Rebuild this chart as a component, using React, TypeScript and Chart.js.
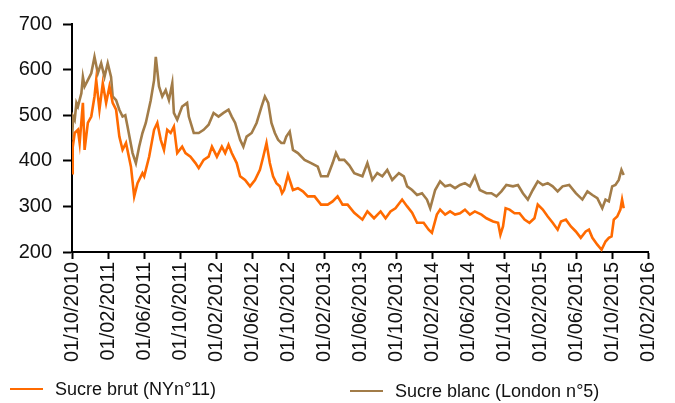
import React, { useEffect, useRef } from "react";
import { Chart, registerables } from "chart.js";

Chart.register(...registerables);

// x positions are months elapsed since 01/10/2010
const tickMonths = [0, 4, 8, 12, 16, 20, 24, 28, 32, 36, 40, 44, 48, 52, 56, 60, 64];
const tickLabels = [
  "01/10/2010", "01/02/2011", "01/06/2011", "01/10/2011", "01/02/2012", "01/06/2012",
  "01/10/2012", "01/02/2013", "01/06/2013", "01/10/2013", "01/02/2014", "01/06/2014",
  "01/10/2014", "01/02/2015", "01/06/2015", "01/10/2015", "01/02/2016",
];
const yTicks = [200, 300, 400, 500, 600, 700];

const brutLabel = "Sucre brut (NYn°11)";
const blancLabel = "Sucre blanc (London n°5)";

const brutMonths = [
  0.0, 0.08, 0.3, 0.66, 0.85, 1.21, 1.4, 1.76, 2.14, 2.5, 2.69, 3.05, 3.42, 3.79, 4.16, 4.52, 4.9,
  5.26, 5.62, 6.0, 6.55, 6.91, 7.28, 7.83, 8.02, 8.57, 9.12, 9.48, 9.86, 10.22, 10.58, 10.96,
  11.32, 11.69, 12.24, 12.61, 13.16, 13.72, 14.08, 14.63, 15.18, 15.55, 16.1, 16.65, 17.02,
  17.39, 17.75, 18.3, 18.68, 19.23, 19.78, 20.33, 20.88, 21.25, 21.61, 21.98, 22.34, 22.71,
  23.09, 23.34, 23.56, 24.0, 24.55, 25.1, 25.65, 26.2, 26.95, 27.67, 28.41, 28.96, 29.51,
  30.06, 30.62, 31.36, 32.27, 32.82, 33.56, 34.29, 34.84, 35.39, 35.94, 36.68, 37.24, 37.79,
  38.34, 39.07, 39.63, 39.99, 40.54, 40.9, 41.46, 42.01, 42.56, 43.11, 43.66, 44.21, 44.76,
  45.5, 46.05, 46.79, 47.34, 47.6, 47.89, 48.18, 48.62, 49.17, 49.72, 50.28, 50.83, 51.38,
  51.75, 52.31, 52.86, 53.41, 53.96, 54.33, 54.88, 55.43, 55.98, 56.53, 57.08, 57.44, 57.82,
  58.37, 58.84, 59.28, 59.65, 59.95, 60.2, 60.58, 60.93, 61.12, 61.3,
];
const brutValues = [
  373, 430, 461, 468, 439, 527, 424, 483, 497, 541, 577, 512, 570, 527, 563, 527, 512,
  453, 424, 439, 387, 322, 351, 373, 366, 409, 468, 483, 446, 424, 468, 461,
  475, 417, 431, 417, 409, 395, 384, 402, 409, 431, 409, 431, 417,
  435, 417, 395, 366, 358, 344, 358, 380, 409, 439, 395, 366, 351,
  344, 329, 336, 369, 336, 340, 333, 322, 322, 304, 304, 311, 322,
  304, 304, 286, 271, 289, 274, 289, 274, 289, 296, 315, 300, 286,
  264, 264, 249, 242, 282, 293, 282, 289, 282, 285, 293, 282, 289,
  282, 274, 267, 264, 238, 256, 296, 293, 285, 285, 271, 264, 274,
  304, 293, 278, 264, 249, 267, 271, 256, 245, 231, 245, 249, 231,
  216, 205, 223, 231, 234, 271, 278, 293, 315, 296,
];

const blancMonths = [
  0.0, 0.13, 0.3, 0.49, 0.66, 1.04, 1.21, 1.4, 1.76, 2.14, 2.5, 2.87, 3.24, 3.61, 3.97, 4.34,
  4.52, 4.9, 5.26, 5.62, 5.92, 6.17, 6.73, 7.1, 7.46, 7.83, 8.2, 8.75, 9.12, 9.31, 9.67,
  10.03, 10.41, 10.77, 11.14, 11.32, 11.69, 12.24, 12.79, 12.98, 13.53, 14.08, 14.63, 15.18,
  15.73, 16.28, 16.83, 17.39, 17.75, 18.13, 18.68, 19.04, 19.4, 19.96, 20.51, 21.06, 21.43,
  21.8, 22.16, 22.54, 22.9, 23.26, 23.56, 23.81, 24.19, 24.55, 25.1, 25.84, 26.57, 27.31,
  27.67, 28.41, 28.96, 29.33, 29.7, 30.25, 30.81, 31.36, 32.27, 32.82, 33.37, 33.92, 34.48,
  35.03, 35.58, 36.32, 36.87, 37.24, 37.79, 38.34, 38.89, 39.44, 39.8, 40.35, 40.9, 41.46,
  42.01, 42.56, 43.11, 43.66, 44.21, 44.76, 45.31, 46.05, 46.6, 47.16, 47.71, 48.26, 49.0,
  49.55, 50.1, 50.65, 51.2, 51.75, 52.31, 52.86, 53.41, 53.96, 54.51, 55.24, 55.98, 56.71,
  57.27, 57.82, 58.37, 58.92, 59.28, 59.65, 60.02, 60.38, 60.75, 61.05, 61.3,
];
const blancValues = [
  446, 497, 490, 527, 519, 548, 584, 563, 577, 592, 628, 592, 614, 584, 614, 584,
  541, 533, 512, 497, 500, 475, 417, 395, 431, 461, 483, 533, 577, 628, 563,
  541, 555, 533, 570, 505, 490, 519, 527, 497, 461, 461, 468, 479,
  505, 497, 505, 512, 497, 483, 446, 431, 453, 461, 483, 519, 541,
  527, 483, 461, 446, 439, 439, 453, 464, 424, 417, 402, 395, 387,
  366, 366, 395, 417, 402, 402, 390, 373, 366, 395, 358, 373, 366,
  380, 358, 373, 366, 344, 336, 325, 329, 315, 296, 336, 355, 344,
  347, 340, 347, 351, 344, 366, 336, 329, 329, 322, 333, 347, 344,
  347, 329, 315, 336, 355, 347, 351, 344, 333, 344, 347, 329, 315,
  333, 325, 318, 296, 315, 311, 344, 347, 358, 380, 369,
];

const brutColor = "#FF6A00";
const blancColor = "#A27C48";
const FONT = "'Liberation Sans', Arial, sans-serif";

export default function App() {
  const ref = useRef<HTMLCanvasElement>(null);

  useEffect(() => {
    if (!ref.current) return;
    const chart = new Chart(ref.current, {
      type: "line",
      data: {
        datasets: [
          {
            label: brutLabel,
            data: brutMonths.map((m, i) => ({ x: m, y: brutValues[i] })),
            borderColor: brutColor,
            backgroundColor: brutColor,
            borderWidth: 2.6,
            pointRadius: 0,
            tension: 0,
          },
          {
            label: blancLabel,
            data: blancMonths.map((m, i) => ({ x: m, y: blancValues[i] })),
            borderColor: blancColor,
            backgroundColor: blancColor,
            borderWidth: 2.6,
            pointRadius: 0,
            tension: 0,
          },
        ],
      },
      options: {
        responsive: false,
        animation: false,
        layout: { padding: { top: 24, right: 20, left: 0, bottom: 0 } },
        plugins: { legend: { display: false }, tooltip: { enabled: false } },
        scales: {
          x: {
            type: "linear",
            min: 0,
            max: 64,
            afterBuildTicks: (scale: any) => {
              scale.ticks = tickMonths.map((v) => ({ value: v }));
            },
            afterFit: (scale: any) => {
              scale.height = 151;
            },
            ticks: {
              autoSkip: false,
              minRotation: 90,
              maxRotation: 90,
              padding: 3,
              color: "#111",
              font: { family: FONT, size: 20 },
              callback: (v: any) => {
                const i = tickMonths.indexOf(Number(v));
                return i >= 0 ? tickLabels[i] : "";
              },
            },
            grid: {
              drawOnChartArea: false,
              drawTicks: true,
              tickLength: 7,
              tickWidth: 2,
              tickColor: "#000",
              color: "#000",
            },
            border: { display: true, color: "#000", width: 2 },
          },
          y: {
            min: 200,
            max: 700,
            afterBuildTicks: (scale: any) => {
              scale.ticks = yTicks.map((v) => ({ value: v }));
            },
            afterFit: (scale: any) => {
              scale.width = 72;
            },
            ticks: {
              padding: 11,
              color: "#111",
              font: { family: FONT, size: 20 },
            },
            grid: {
              drawOnChartArea: false,
              drawTicks: true,
              tickLength: 9,
              tickWidth: 2,
              tickColor: "#000",
              color: "#000",
            },
            border: { display: true, color: "#000", width: 2 },
          },
        },
      },
    });
    return () => chart.destroy();
  }, []);

  const textStyle: React.CSSProperties = {
    position: "absolute",
    fontFamily: FONT,
    fontSize: 18,
    lineHeight: "20px",
    color: "#111",
    whiteSpace: "nowrap",
  };

  return (
    <div style={{ position: "absolute", left: 0, top: 0, width: 675, height: 403, background: "#fff" }}>
      <canvas ref={ref} width={675} height={403} style={{ display: "block" }} />
      <div style={{ position: "absolute", left: 10, top: 388, width: 33, height: 2, background: brutColor }} />
      <div style={{ ...textStyle, left: 55, top: 379 }}>{brutLabel}</div>
      <div style={{ position: "absolute", left: 350, top: 390, width: 33, height: 2, background: blancColor }} />
      <div style={{ ...textStyle, left: 395, top: 381 }}>{blancLabel}</div>
    </div>
  );
}
